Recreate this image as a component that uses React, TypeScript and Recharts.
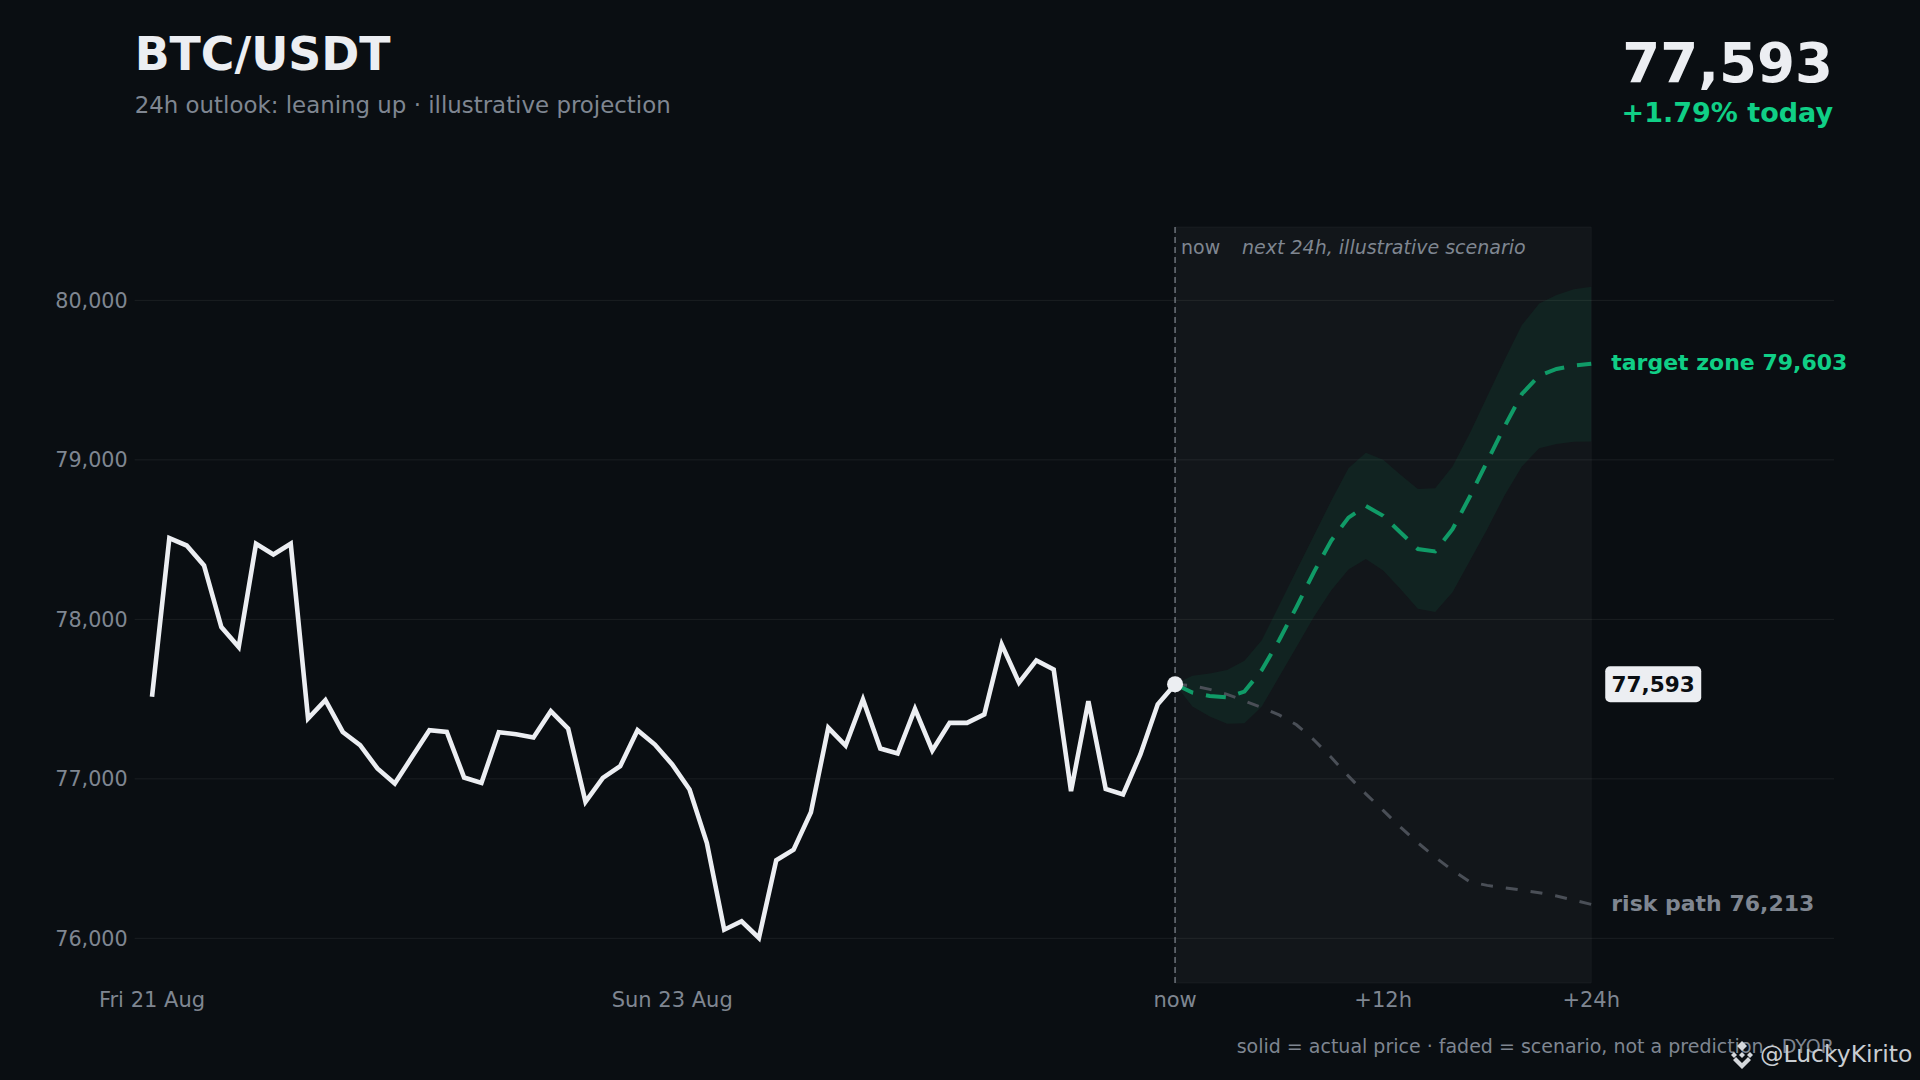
import { ComposedChart, Line, Area, XAxis, YAxis, CartesianGrid, ReferenceArea, ReferenceLine, ReferenceDot } from "recharts"

const FONT = "'DejaVu Sans', sans-serif"
const BG = "#0a0e12"
const WHITE = "#eceef2"
const GREY = "#7f8691"
const GREEN = "#10cf86"

const actual = [
  77514, 78509, 78463, 78338, 77952, 77827, 78474, 78407, 78474, 77378,
  77493, 77294, 77211, 77065, 76971, 77138, 77305, 77294, 77008, 76975,
  77292, 77280, 77259, 77424, 77315, 76856, 77006, 77079, 77305, 77215,
  77090, 76933, 76598, 76054, 76107, 76002, 76490, 76556, 76791, 77320,
  77209, 77498, 77190, 77159, 77439, 77178, 77351, 77351, 77404, 77843,
  77603, 77743, 77686, 76923, 77487, 76937, 76902, 77153, 77467, 77593,
]
const scenario = [
  77593, 77541, 77520, 77511, 77547, 77682, 77869, 78077, 78295, 78493,
  78638, 78711, 78649, 78545, 78441, 78426, 78565, 78770, 78990, 79209,
  79413, 79528, 79570, 79591, 79603,
]
const bandHigh = [
  77593, 77647, 77661, 77682, 77740, 77869, 78087, 78306, 78524, 78742,
  78948, 79044, 79000, 78906, 78818, 78822, 78958, 79167, 79397, 79626,
  79845, 79981, 80033, 80069, 80086,
]
const bandLow = [
  77593, 77453, 77391, 77345, 77349, 77453, 77640, 77827, 78015, 78181,
  78312, 78378, 78306, 78191, 78067, 78046, 78170, 78367, 78565, 78777,
  78958, 79073, 79100, 79113, 79115,
]
const risk = [
  77593, 77584, 77561, 77530, 77489, 77447, 77401, 77339, 77245, 77135,
  77017, 76906, 76802, 76697, 76599, 76509, 76426, 76355, 76332, 76317,
  76302, 76286, 76265, 76240, 76213,
]
const priceTicks = [76000, 77000, 78000, 79000, 80000]
const timeTicks = [0, 30, 59, 71, 83]
const timeLabels = ["Fri 21 Aug", "Sun 23 Aug", "now", "+12h", "+24h"]

const NOW = actual.length - 1
const END = NOW + scenario.length - 1
const LAST_PRICE = actual[NOW]

const data = Array.from({ length: END + 1 }, (_, i) => {
  const f = i - NOW
  return {
    idx: i,
    actual: i <= NOW ? actual[i] : null,
    scenario: f >= 0 ? scenario[f] : null,
    risk: f >= 0 ? risk[f] : null,
    band: f >= 0 ? [bandLow[f], bandHigh[f]] : null,
  }
})

const fmt = (v: number) => v.toLocaleString("en-US")

function EndLabel({ viewBox, text, color, dy = 7 }: any) {
  return (
    <text x={viewBox.x + 20} y={viewBox.y + dy} fill={color} fontFamily={FONT} fontSize={22} fontWeight="bold">
      {text}
    </text>
  )
}

function PriceTag({ viewBox }: any) {
  return (
    <g>
      <rect x={viewBox.x + 14} y={viewBox.y - 18} width={96} height={36} rx={5} fill={WHITE} />
      <text x={viewBox.x + 62} y={viewBox.y + 7.5} textAnchor="middle" fill={BG} fontFamily={FONT} fontSize={21.6} fontWeight="bold">
        {fmt(LAST_PRICE)}
      </text>
    </g>
  )
}

function NowLabel({ viewBox }: any) {
  return (
    <g fontFamily={FONT} fontSize={19} fill={GREY}>
      <text x={viewBox.x + 6} y={viewBox.y + 27}>now</text>
      <text x={viewBox.x + 67} y={viewBox.y + 27} fontStyle="italic">next 24h, illustrative scenario</text>
    </g>
  )
}

export default function App() {
  return (
    <div style={{ position: "absolute", left: 0, top: 0, width: 1920, height: 1080, background: BG, overflow: "hidden" }}>
      <ComposedChart
        width={1920}
        height={1080}
        data={data}
        margin={{ top: 227, right: 86, bottom: 57, left: 0 }}
      >
        <ReferenceArea x1={NOW} x2={END} fill="#ffffff" fillOpacity={0.035} stroke="#ffffff" strokeOpacity={0.04} />
        <CartesianGrid horizontal vertical={false} syncWithTicks stroke="#ffffff" strokeOpacity={0.07} />
        <XAxis
          dataKey="idx"
          type="number"
          domain={[-1, 97]}
          ticks={timeTicks}
          tickFormatter={(v: number) => timeLabels[timeTicks.indexOf(v)]}
          axisLine={false}
          tickLine={false}
          tickSize={0}
          tickMargin={9}
          height={40}
          interval={0}
          tick={{ fill: GREY, fontSize: 21, fontFamily: FONT }}
        />
        <YAxis
          type="number"
          domain={[75720, 80460]}
          ticks={priceTicks}
          tickFormatter={fmt}
          axisLine={false}
          tickLine={false}
          tickSize={0}
          tickMargin={7}
          width={134.66}
          interval={0}
          tick={{ fill: GREY, fontSize: 20.7, fontFamily: FONT }}
        />
        <ReferenceLine x={NOW} stroke="#8a9099" strokeOpacity={0.75} strokeWidth={1.5} strokeDasharray="6 4" label={<NowLabel />} />
        <Area
          dataKey="band"
          type="linear"
          stroke="none"
          fill={GREEN}
          fillOpacity={0.07}
          connectNulls={false}
          dot={false}
          activeDot={false}
          isAnimationActive={false}
        />
        <Line dataKey="risk" type="linear" stroke="#4a4f57" strokeWidth={3} strokeDasharray="12 13" dot={false} activeDot={false} isAnimationActive={false} />
        <Line dataKey="scenario" type="linear" stroke={GREEN} strokeOpacity={0.7} strokeWidth={4} strokeDasharray="20 13" dot={false} activeDot={false} isAnimationActive={false} />
        <Line dataKey="actual" type="linear" stroke={WHITE} strokeWidth={4.6} strokeLinejoin="miter" dot={false} activeDot={false} isAnimationActive={false} />
        <ReferenceDot x={NOW} y={LAST_PRICE} r={8} fill={WHITE} stroke="none" />
        <ReferenceDot x={END} y={scenario[24]} r={0} stroke="none" label={<EndLabel text={`target zone ${fmt(scenario[24])}`} color={GREEN} dy={6} />} />
        <ReferenceDot x={END} y={risk[24]} r={0} stroke="none" label={<EndLabel text={`risk path ${fmt(risk[24])}`} color={GREY} />} />
        <ReferenceDot x={END} y={LAST_PRICE} r={0} stroke="none" label={<PriceTag />} />
      </ComposedChart>

      <svg width={1920} height={1080} style={{ position: "absolute", left: 0, top: 0 }} fontFamily={FONT}>
        <text x={134.7} y={70} fill={WHITE} fontSize={45.8} fontWeight="bold">BTC/USDT</text>
        <text x={134.7} y={113} fill={GREY} fontSize={22.9}>24h outlook: leaning up · illustrative projection</text>
        <text x={1833} y={82} textAnchor="end" fill={WHITE} fontSize={54.6} fontWeight="bold">{fmt(LAST_PRICE)}</text>
        <text x={1833} y={122} textAnchor="end" fill={GREEN} fontSize={27} fontWeight="bold">+1.79% today</text>
        <text x={1834} y={1053} textAnchor="end" fill={GREY} fontSize={19}>solid = actual price · faded = scenario, not a prediction · DYOR</text>
        <g fill="#d4d7db">
          <path d="M1742 1041 l5 5 -5 5 -5 -5z" />
          <path d="M1742 1052 l3 3 -3 3 -3 -3z" />
          <path d="M1731 1055 l3 -3 3 3 -3 3z" />
          <path d="M1747 1055 l3 -3 3 3 -3 3z" />
          <path d="M1733 1060 l3 -3 6 6 6 -6 3 3 -9 9z" />
        </g>
        <text x={1760} y={1062} fill="#c9cdd2" fontSize={23.5}>@LuckyKirito</text>
      </svg>
    </div>
  )
}
